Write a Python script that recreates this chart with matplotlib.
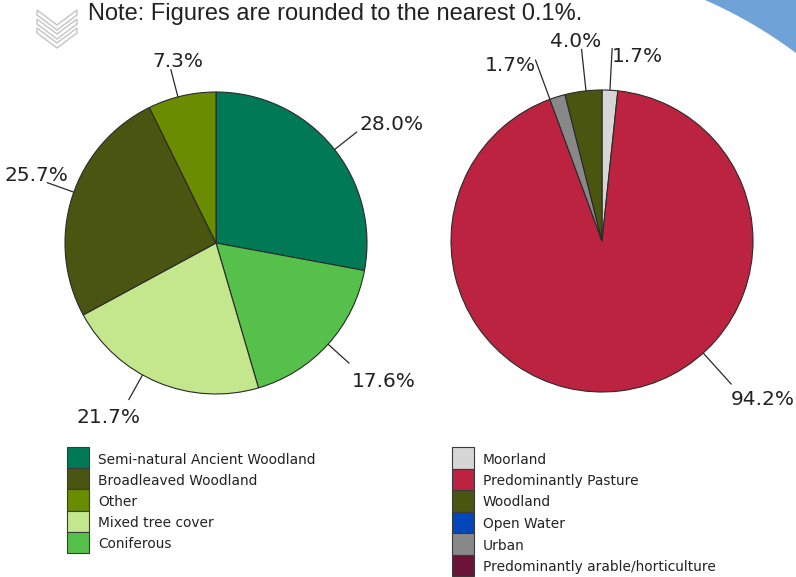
import numpy as np
import matplotlib
matplotlib.use("Agg")
import matplotlib.pyplot as plt
from matplotlib.patches import Rectangle, Polygon

# ---- data -------------------------------------------------------------
woodland_types = ["Semi-natural Ancient Woodland", "Broadleaved Woodland", "Other",
                  "Mixed tree cover", "Coniferous"]
woodland_share = [28.0, 25.7, 7.3, 21.7, 17.6]
woodland_colors = ["#007a56", "#4b5512", "#6a8c00", "#c4e68c", "#55c04a"]
woodland_pie_order = [0, 4, 3, 1, 2]          # clockwise from 12 o'clock

landuse_types = ["Moorland", "Predominantly Pasture", "Woodland", "Open Water",
                 "Urban", "Predominantly arable/horticulture"]
landuse_share = [1.7, 94.2, 4.0, 0.0, 1.7, 0.0]
landuse_colors = ["#d6d6d6", "#bc2340", "#4a5510", "#0047bb", "#888888", "#6b1438"]
landuse_pie_order = [0, 1, 5, 4, 3, 2]        # clockwise from 12 o'clock

note_text = "Note: Figures are rounded to the nearest 0.1%."

# ---- layout -----------------------------------------------------------
W, H, DPI = 796, 577, 100
fig = plt.figure(figsize=(W / DPI, H / DPI), dpi=DPI)
fig.patch.set_facecolor("white")

TEXT = "#222222"
EDGE = "#2a2a2a"

# full-figure overlay in pixel units for decorations
bg = fig.add_axes([0, 0, 1, 1])
bg.set_xlim(0, W)
bg.set_ylim(H, 0)
bg.axis("off")

# blue corner arc
cxc, cyc, rc = 520.0, 421.7, 460.5
t = np.linspace(np.deg2rad(-75), np.deg2rad(-20), 200)
ax_pts = cxc + rc * np.cos(t)
ay_pts = cyc + rc * np.sin(t)
keep = (ax_pts <= W + 5) & (ay_pts >= -5)
arc = np.column_stack([ax_pts[keep], ay_pts[keep]])
poly = np.vstack([arc, [[W + 5, -5]]])
bg.add_patch(Polygon(poly, closed=True, facecolor="#6fa3d8", edgecolor="none"))

# chevron icon
for y0 in (10, 19, 28):
    pts = [(37, y0), (57, y0 + 15), (77, y0), (77, y0 + 5), (57, y0 + 20), (37, y0 + 5)]
    bg.add_patch(Polygon(pts, closed=True, facecolor="none", edgecolor="#c4c4c4", lw=1.0))

bg.text(88, 20, note_text, fontsize=17, family="Liberation Sans", color=TEXT,
        ha="left", va="baseline")


def draw_pie(cx, cy, r, values, colors, order, line_len, nudges, offsets):
    ax = fig.add_axes([(cx - r) / W, (H - cy - r) / H, 2 * r / W, 2 * r / H])
    vals = [values[i] for i in order if values[i] > 0]
    cols = [colors[i] for i in order if values[i] > 0]
    wedges, _ = ax.pie(vals, colors=cols, startangle=90, counterclock=False,
                       wedgeprops=dict(edgecolor=EDGE, linewidth=0.8))
    ax.set_xlim(-1, 1)
    ax.set_ylim(-1, 1)
    ax.axis("off")
    for w, v, nd, (dx, dy) in zip(wedges, vals, nudges, offsets):
        th = np.deg2rad((w.theta1 + w.theta2) / 2 + nd)
        c, s = np.cos(th), np.sin(th)
        ax.plot([c, c * line_len], [s, s * line_len], color=EDGE, lw=0.9,
                clip_on=False, solid_capstyle="butt")
        ax.annotate(f"{v:.1f}%", xy=(c * line_len, s * line_len),
                    xytext=(dx, -dy), textcoords="offset pixels",
                    ha="center", va="baseline", fontsize=14.5,
                    family="DejaVu Sans", color=TEXT, annotation_clip=False)
    return ax


draw_pie(216, 243, 151, woodland_share, woodland_colors, woodland_pie_order,
         1.19, [-1.5, 0, -6.5, -2, 1.5],
         [(34, -2), (34, 24), (-20, 23), (-10, -1), (7, -2)])

draw_pie(602, 241, 151, landuse_share, landuse_colors, landuse_pie_order,
         1.28, [0, 35, 3, -1],
         [(25, 14), (31, 21), (-25, 11), (-6, -2)])


def draw_legend(x0, y0, pitch, labels, colors):
    for i, (lab, col) in enumerate(zip(labels, colors)):
        top = y0 + i * pitch
        bg.add_patch(Rectangle((x0, top), 22, pitch, facecolor=col,
                               edgecolor="#3a3a3a", lw=0.8))
        bg.text(x0 + 31, top + 16.5, lab, fontsize=9.9, family="DejaVu Sans",
                color=TEXT, ha="left", va="baseline")


draw_legend(67, 447, 21.2, woodland_types, woodland_colors)
draw_legend(452, 447, 21.5, landuse_types, landuse_colors)

fig.savefig("out.png", dpi=DPI, facecolor="white")
